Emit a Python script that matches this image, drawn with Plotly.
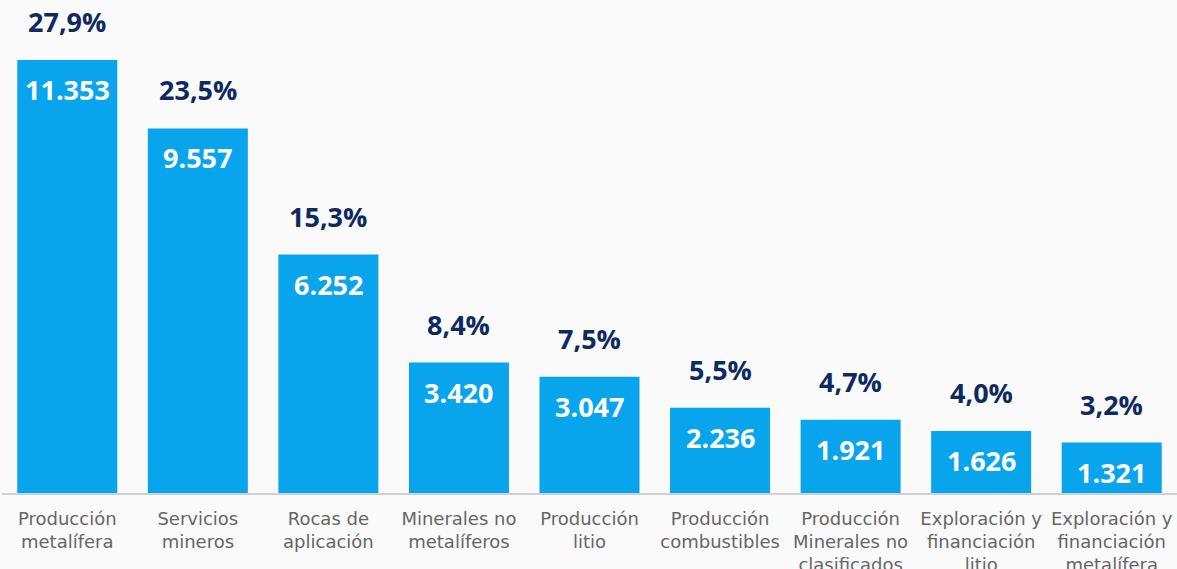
import plotly.graph_objects as go

categories = [
    "Producción<br>metalífera",
    "Servicios<br>mineros",
    "Rocas de<br>aplicación",
    "Minerales no<br>metalíferos",
    "Producción<br>litio",
    "Producción<br>combustibles",
    "Producción<br>Minerales no<br>clasificados",
    "Exploración y<br>financiación<br>litio",
    "Exploración y<br>financiación<br>metalífera",
]
values = [11353, 9557, 6252, 3420, 3047, 2236, 1921, 1626, 1321]
shares = [27.9, 23.5, 15.3, 8.4, 7.5, 5.5, 4.7, 4.0, 3.2]

BAR = "#08A4EC"
NAVY = "#0E2A5F"
FONT = "Open Sans, Noto Sans, sans-serif"
TICKFONT = "DejaVu Sans, sans-serif"


def es_int(v):
    return f"{v:,d}".replace(",", ".")


def es_pct(v):
    return f"{v:.1f}".replace(".", ",") + "%"


fig = go.Figure()
fig.add_trace(go.Bar(
    x=categories, y=values,
    marker=dict(color=BAR, line=dict(width=0)),
    hoverinfo="skip",
))

for c, v, s in zip(categories, values, shares):
    fig.add_annotation(
        x=c, y=v, text=es_int(v), showarrow=False,
        yanchor="top", yshift=-9,
        font=dict(family=FONT, size=27, color="white", weight="bold"),
    )
    fig.add_annotation(
        x=c, y=v, text=es_pct(s), showarrow=False,
        yanchor="bottom", yshift=18,
        font=dict(family=FONT, size=27, color=NAVY, weight="bold"),
    )

fig.update_layout(
    width=1177, height=569,
    margin=dict(l=2, r=0, t=0, b=76, autoexpand=False),
    paper_bgcolor="#FAFAFA",
    plot_bgcolor="#FAFAFA",
    showlegend=False,
    bargap=0.234,
    font=dict(family=FONT),
)
fig.update_xaxes(
    showline=True, linecolor="#D0D0D0", linewidth=2,
    tickfont=dict(family=TICKFONT, size=18, color="#666666"),
    ticks="", showgrid=False, ticklabelstandoff=8, automargin=False,
)
fig.update_yaxes(
    range=[0, 12926], visible=False, showgrid=False, zeroline=False,
    automargin=False,
)

fig.write_html(
    "out.html",
    config={"displayModeBar": False},
    post_script="document.body.style.margin='0';document.body.style.overflow='hidden';",
)
